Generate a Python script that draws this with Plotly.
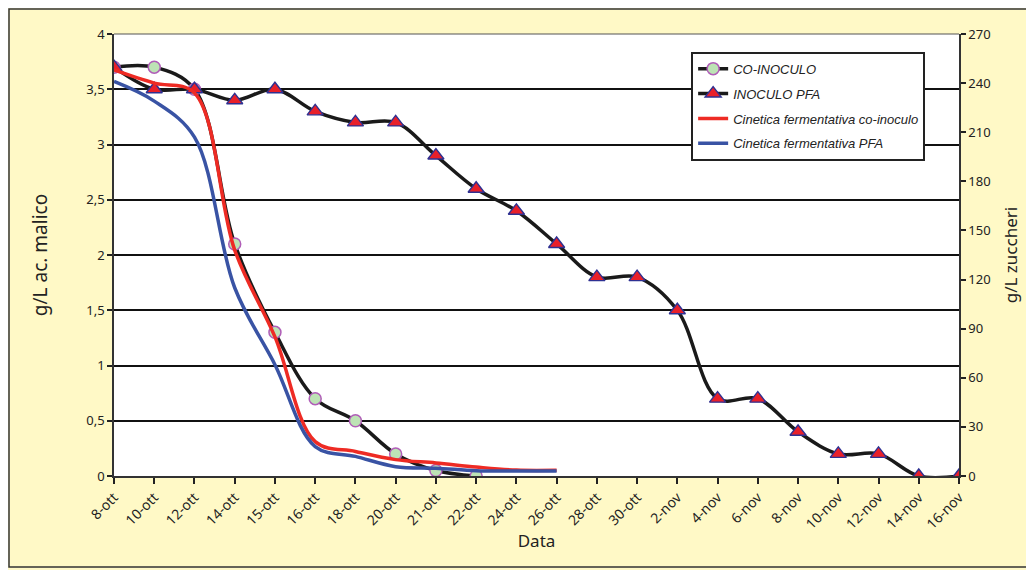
import plotly.graph_objects as go

dates = ["8-ott", "10-ott", "12-ott", "14-ott", "15-ott", "16-ott", "18-ott", "20-ott",
         "21-ott", "22-ott", "24-ott", "26-ott", "28-ott", "30-ott", "2-nov", "4-nov",
         "6-nov", "8-nov", "10-nov", "12-nov", "14-nov", "16-nov"]

co_inoculo = [3.7, 3.7, 3.5, 2.1, 1.3, 0.7, 0.5, 0.2, 0.05, 0.0]
inoculo_pfa = [3.7, 3.5, 3.5, 3.4, 3.5, 3.3, 3.2, 3.2, 2.9, 2.6, 2.4, 2.1,
               1.8, 1.8, 1.5, 0.7, 0.7, 0.4, 0.2, 0.2, 0.0, 0.0]
cinetica_co = [248, 240, 234, 138, 85, 21, 15, 10, 8, 5.5, 3.6, 3.5]
cinetica_pfa = [241, 229, 207, 115, 68, 18, 12, 5.7, 4.8, 3.2, 3, 3]

font_fam = "Noto Sans, Open Sans, sans-serif"
leg_font = dict(family="Liberation Sans, Arial, sans-serif", size=13, color="#222")

# page has an 8px body margin: figure is sized/offset to compensate
W, H = 1026, 562
L, R, T, B = 106, 75, 26, 94
PW, PH = W - L - R, H - T - B

fig = go.Figure()
fig.add_trace(go.Scatter(
    x=dates[:len(co_inoculo)], y=co_inoculo, name="<i>CO-INOCULO</i>",
    mode="lines+markers", legendgroup="a",
    line=dict(color="#1a1a1a", width=3.5, shape="spline", smoothing=1),
    marker=dict(symbol="circle", size=12, color="#BDE3B5",
                line=dict(color="#B05DB8", width=1.5))))
fig.add_trace(go.Scatter(
    x=dates, y=inoculo_pfa, name="<i>INOCULO PFA</i>",
    mode="lines+markers", legendgroup="b",
    line=dict(color="#1a1a1a", width=3.5, shape="spline", smoothing=1),
    marker=dict(symbol="triangle-up", size=14, color="#E8202A",
                line=dict(color="#2E3192", width=1.4))))
fig.add_trace(go.Scatter(
    x=dates[:len(cinetica_co)], y=cinetica_co, name="<i>Cinetica fermentativa co-inoculo</i>",
    mode="lines", yaxis="y2", legendgroup="c",
    line=dict(color="#EE2B24", width=3.5, shape="spline", smoothing=1)))
fig.add_trace(go.Scatter(
    x=dates[:len(cinetica_pfa)], y=cinetica_pfa, name="<i>Cinetica fermentativa PFA</i>",
    mode="lines", yaxis="y2", legendgroup="d",
    line=dict(color="#3953A4", width=3.5, shape="spline", smoothing=1)))

fig.update_layout(
    width=W, height=H,
    margin=dict(l=L, r=R, t=T, b=B, autoexpand=False),
    paper_bgcolor="#FFF9C6",
    plot_bgcolor="#FFFFFF",
    separators=",.",
    font=dict(family=font_fam, size=13, color="#222"),
    showlegend=True,
    legend=dict(x=0.683, y=0.96, xanchor="left", yanchor="top",
                bgcolor="#FFFFFF", bordercolor="#222", borderwidth=2,
                font=leg_font, itemwidth=30, tracegroupgap=5,
                traceorder="grouped"),
    xaxis=dict(type="category", categoryorder="array", categoryarray=dates,
               range=[0, len(dates) - 1], tickangle=-45,
               ticks="outside", ticklen=6, tickcolor="#222", tickwidth=1.5,
               showline=True, linecolor="#333", linewidth=1.5, mirror=False,
               showgrid=False, tickfont=dict(size=14),
               title=dict(text="Data", font=dict(size=17), standoff=0)),
    yaxis=dict(range=[0, 4], dtick=0.5, ticks="outside", ticklen=5,
               tickcolor="#222", tickwidth=1.5,
               showline=True, linecolor="#333", linewidth=1.5,
               showgrid=True, gridcolor="#111", gridwidth=1.8,
               zeroline=False, tickfont=dict(size=13),
               title=dict(text="g/L ac. malico", font=dict(size=19), standoff=34)),
    yaxis2=dict(range=[0, 270], dtick=30, overlaying="y", side="right",
                ticks="outside", ticklen=5, tickcolor="#222", tickwidth=1.5,
                showline=True, linecolor="#333", linewidth=1.5,
                showgrid=False, zeroline=False, tickfont=dict(size=13),
                title=dict(text="g/L zuccheri", font=dict(size=17), standoff=15)),
    shapes=[
        dict(type="line", xref="x domain", yref="y domain", x0=0, x1=1, y0=1, y1=1,
             line=dict(color="#555", width=1.2)),
        dict(type="rect", xref="paper", yref="paper",
             x0=-(L - 1) / PW, x1=1 + (R + 20) / PW,
             y0=-(B - 3) / PH, y1=1 + (T - 1) / PH,
             line=dict(color="#333", width=1.5), layer="below"),
    ],
)

fig.write_html("out.html")
